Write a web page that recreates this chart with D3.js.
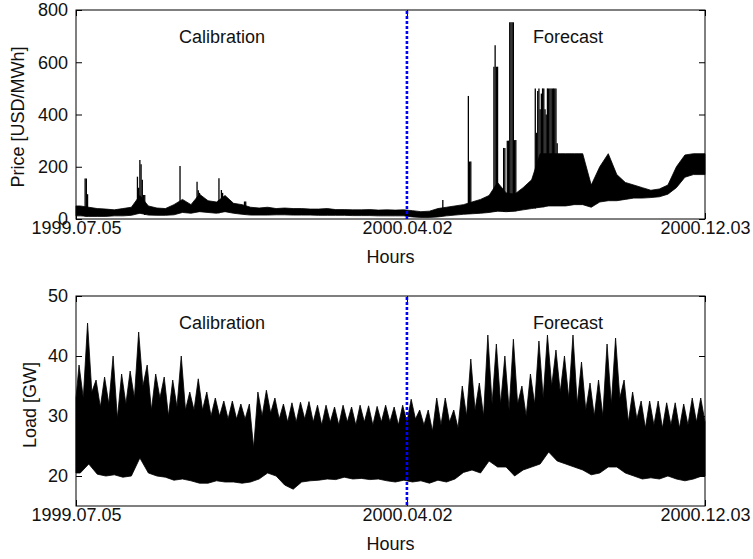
<!DOCTYPE html>
<html>
<head>
    <meta charset="utf-8">
    <script src="https://cdn.jsdelivr.net/npm/d3@7"></script>
</head>
<body style="margin:0;background:#fff;">
<style>
    text{font-family:"Liberation Sans",Arial,sans-serif;fill:#111;}
    .box{fill:none;stroke:#000;stroke-width:1;}
    .series{fill:#000;stroke:#000;stroke-width:0.8;}
    .spike{stroke:#000;stroke-width:1.3;}
    .split{stroke:#0000ff;stroke-width:2.6;stroke-dasharray:3,2;}
</style>
<script>
    // readings per week, week 0 starts 1999.07.05
    var priceHigh=[50,45,40,38,35,40,45,90,50,42,40,55,75,55,95,70,65,90,60,55,
        45,42,45,40,42,40,40,38,38,40,36,36,35,35,36,34,35,34,35,32,
        28,30,40,45,50,55,65,75,90,140,100,95,120,150,250,250,250,250,250,250,
        130,200,250,170,140,130,120,110,115,130,200,245,250,250];
    var priceLow=[12,10,10,10,12,12,14,22,15,14,14,16,25,22,28,25,22,28,22,18,
        15,15,15,16,16,15,15,15,14,14,14,14,13,13,13,12,12,12,12,8,
        6,6,8,12,15,18,20,22,25,30,28,30,35,40,45,50,50,50,55,55,
        45,65,70,70,75,80,80,82,85,95,120,160,170,170];
    // daily maxima that stand out of the band: [day, USD/MWh]
    var priceSpikes=[[7,155],[8,155],[9,95],[50,162],[51,120],[52,226],[53,210],[54,150],[55,92],[56,92],
        [85,203],[99,143],[100,110],[101,100],[117,156],[119,111],[120,100],[122,80],[138,67],[139,67],
        [301,73],[322,471],[323,220],[324,220],[343,583],[344,665],[345,583],[346,583],
        [351,272],[352,272],[354,300],[355,300],[356,753],[357,753],[358,753],[359,753],[360,302],[361,302],
        [377,500],[378,330],[379,490],[380,500],[381,420],[382,480],[383,500],[384,500],[385,420],
        [386,400],[387,500],[388,500],[389,500],[390,500],[391,500],[392,500],[393,500],[394,500],[395,290]];

    var loadHigh=[38.5,45.5,36,36.5,40,37,37.5,44,38.5,37,36.5,36,40,34,36.2,34,33,32.5,32.5,32,
        32,34,34.3,33,32,32.2,32.3,32.4,31.8,31.8,31.5,31.8,31.5,31.8,31.7,31.6,31.8,31.5,31.8,32.8,
        31,31,33,33,31,35,39.5,35.5,43.5,42,40,42.8,35,37,42.5,43.5,41,40,43.5,39,
        35.5,36,42,43,36,34,32.5,32.5,32.5,32.2,32.2,32,33,33];
    var loadDip=[33,34,31.5,32,29.6,32,33,35,31,33,30,31.5,31,31,31,30,30,29.5,29.5,29.5,
        24.7,30,30.5,29.5,29,29,29.5,29,28.5,29,28.5,29,28.5,29,28.5,29,29,28.5,29,29.5,
        28.5,27.5,28.5,29,28,30,31,30,32,32,31,32,30,32,33,35,34,33,32,31,
        30,30,32,33,29,29.5,28,28.5,28,28.5,28,28.5,29,29];
    var loadLow=[20.5,22,20.3,20,20.2,19.8,20,23,20.5,20,19.8,19.3,19.5,19.2,18.8,18.8,19.2,19,19,18.8,
        19,19.5,20.5,20,18.5,17.8,19,19.2,19.3,19.5,19.4,19.8,19.5,19.6,19.4,19.5,19.2,19,19.3,19,
        19.2,18.8,19.3,19,19.5,20.6,21,20.5,22.5,21.5,21.5,20,21,21.5,22,24,22.5,22,21.5,21,
        20.2,20.5,21.5,21.5,20.5,20,19.5,19.7,19.5,20,19.5,19.2,19.5,20];

    var priceTicks=[0,200,400,600,800];
    var loadTicks=[20,30,40,50];
    var dateTicks=['1999-07-05','2000-04-02','2000-12-03'];
    var splitDate='2000-04-02';

    var w=753,h=559;
    var svg=d3.select('body').append('svg').attr('width',w).attr('height',h);

    var t0=Date.UTC(1999,6,5),t1=Date.UTC(2000,11,3);
    var x=d3.scaleUtc().domain([t0,t1]).range([76,705]);
    function day(d){return new Date(t0+d*864e5);}
    var parse=d3.utcParse('%Y-%m-%d');
    var fmt=d3.utcFormat('%Y.%m.%d');

    var yPrice=d3.scaleLinear().domain([0,800]).range([219,10]);
    var yLoad=d3.scaleLinear().domain([15,50]).range([506,296]);

    var line=d3.line().x(function(d){return x(day(d[0]))}).y(function(d){return d[1]});

    function band(top,bottom,y){
        var pts=[];
        top.forEach(function(p){pts.push([p[0],y(p[1])])});
        bottom.slice().reverse().forEach(function(p){pts.push([p[0],y(p[1])])});
        return line(pts)+'Z';
    }

    // price panel
    var gp=svg.append('g');
    var pTop=[[0,priceHigh[0]]],pBot=[[0,priceLow[0]]];
    priceHigh.forEach(function(v,i){pTop.push([7*i+3.5,v]);pBot.push([7*i+3.5,priceLow[i]]);});
    pTop.push([517,priceHigh[priceHigh.length-1]]);
    pBot.push([517,priceLow[priceLow.length-1]]);
    gp.append('path').attr('class','series').attr('d',band(pTop,pBot,yPrice));
    gp.selectAll('line.spike').data(priceSpikes).enter().append('line')
        .attr('class','spike')
        .attr('x1',function(d){return x(day(d[0]+0.5))})
        .attr('x2',function(d){return x(day(d[0]+0.5))})
        .attr('y1',function(d){return yPrice(priceLow[Math.min(Math.floor(d[0]/7),priceLow.length-1)])})
        .attr('y2',function(d){return yPrice(d[1])});

    // load panel
    var gl=svg.append('g');
    var lTop=[[0,loadDip[0]]],lBot=[[0,loadLow[0]]];
    loadHigh.forEach(function(v,i){lTop.push([7*i+2.5,v]);lTop.push([7*i+6,loadDip[i]]);lBot.push([7*i+3.5,loadLow[i]]);});
    lBot.push([517,loadLow[loadLow.length-1]]);
    gl.append('path').attr('class','series').attr('d',band(lTop,lBot,yLoad));

    function frame(y,ticks,top,bottom,ylab,labx,laby,split){
        var g=svg.append('g');
        var ax=g.append('g').attr('transform','translate(0,'+bottom+')')
            .call(d3.axisBottom(x).tickValues(dateTicks.map(parse)).tickFormat(fmt).tickSize(-6).tickPadding(2));
        g.append('g').attr('transform','translate(0,'+top+')')
            .call(d3.axisTop(x).tickValues(dateTicks.map(parse)).tickFormat('').tickSize(-6));
        g.append('g').attr('transform','translate(76,0)')
            .call(d3.axisLeft(y).tickValues(ticks).tickSize(-6).tickPadding(8));
        g.append('g').attr('transform','translate(705,0)')
            .call(d3.axisRight(y).tickValues(ticks).tickFormat('').tickSize(-6));
        g.selectAll('.domain').remove();
        g.selectAll('.tick line').attr('stroke','#000');
        g.selectAll('.tick text').attr('font-size',18).attr('font-family','"Liberation Sans",Arial,sans-serif').attr('fill','#111');
        g.append('rect').attr('class','box').attr('x',76).attr('y',top).attr('width',629).attr('height',bottom-top);
        g.append('line').attr('class','split')
            .attr('x1',x(parse(splitDate))).attr('x2',x(parse(splitDate)))
            .attr('y1',top+1).attr('y2',bottom);
        g.append('text').attr('x',390.5).attr('y',bottom+44).attr('text-anchor','middle').attr('font-size',18).text('Hours');
        g.append('text').attr('transform','translate('+labx+','+laby+') rotate(-90)')
            .attr('text-anchor','middle').attr('font-size',18).text(ylab);
        g.append('text').attr('x',222).attr('y',top+33).attr('text-anchor','middle').attr('font-size',18).text('Calibration');
        g.append('text').attr('x',568).attr('y',top+33).attr('text-anchor','middle').attr('font-size',18).text('Forecast');
    }
    frame(yPrice,priceTicks,10,219,'Price [USD/MWh]',24,117,true);
    frame(yLoad,loadTicks,296,506,'Load [GW]',36,405,true);
</script>
</body>
</html>
